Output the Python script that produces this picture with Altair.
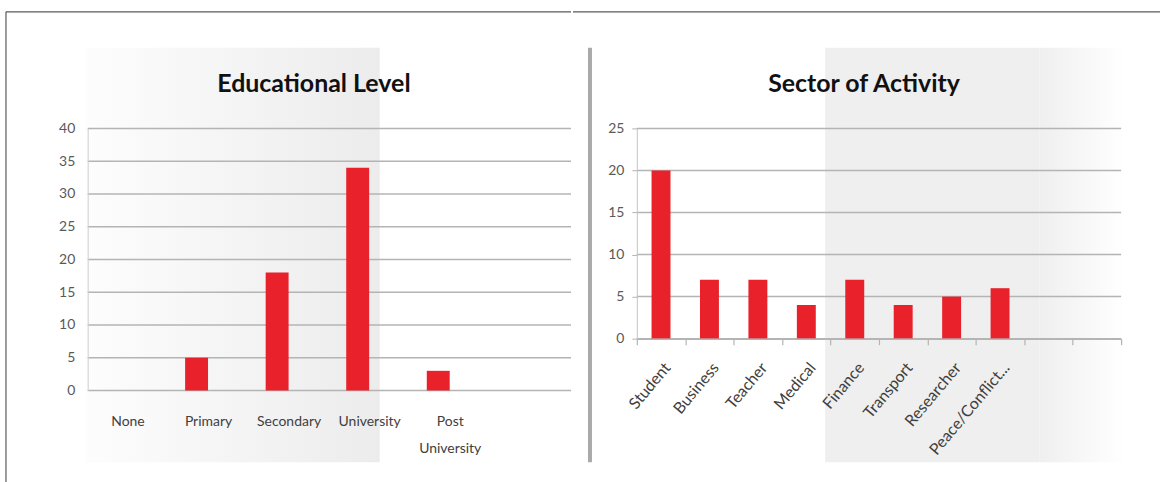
import altair as alt
import pandas as pd

# ---------------- data ----------------
edu_categories = ["None", "Primary", "Secondary", "University", "Post University", "_blank1"]
edu_values = [0, 5, 18, 34, 3]
edu_ticks = [0, 5, 10, 15, 20, 25, 30, 35, 40]

sector_categories = ["Student", "Business", "Teacher", "Medical", "Finance",
                     "Transport", "Researcher", "Peace/Conflict...", "_blank1", "_blank2"]
sector_values = [20, 7, 7, 4, 7, 4, 5, 6]
sector_ticks = [0, 5, 10, 15, 20, 25]

titles = ["Educational Level", "Sector of Activity"]

# ---------------- style ----------------
FONT = "Lato"
BAR = "#E8212A"
GRID = "#b4b4b4"
LABEL = "#595959"
XLABEL = "#404040"
BORDER = "#5a5a5a"

W1, H1 = 485, 263
W2, H2 = 486, 211

one = pd.DataFrame({"k": [0]})


def shade(x0, x1, y0, y1, c0, c1):
    grad = alt.Gradient(
        gradient="linear",
        stops=[alt.GradientStop(color=c0, offset=0), alt.GradientStop(color=c1, offset=1)],
        x1=0, x2=1, y1=0, y2=0,
    )
    return alt.Chart(one).mark_rect(fill=grad).encode(
        x=alt.value(x0), x2=alt.value(x1), y=alt.value(y0), y2=alt.value(y1)
    )


def rule(x0, x1, y0, y1, color, width):
    return alt.Chart(one).mark_rule(color=color, strokeWidth=width).encode(
        x=alt.value(x0), x2=alt.value(x1), y=alt.value(y0), y2=alt.value(y1)
    )


def title_text(txt, x, y):
    return alt.Chart(one).mark_text(
        font=FONT, fontSize=25, fontWeight="bold", color="#111111",
        align="center", baseline="alphabetic"
    ).encode(x=alt.value(x), y=alt.value(y), text=alt.value(txt))


hide_blank = "indexof(datum.label, '_') == 0 ? '' : datum.label"

# ---------------- left chart ----------------
edu_df = pd.DataFrame({"category": edu_categories[:len(edu_values)], "value": edu_values})
edu_grid_df = pd.DataFrame({"value": edu_ticks})

y1_scale = alt.Scale(domain=[0, 40], nice=False)
y1_axis = alt.Axis(title=None, values=edu_ticks, grid=False, ticks=False, domain=True,
                   domainColor="#cfcfcf", labelPadding=13, labelFontSize=14,
                   labelColor=LABEL, labelFont=FONT, zindex=1)
x1_axis = alt.Axis(title=None, labelAngle=0, ticks=False, domain=False, labelPadding=24,
                   labelFontSize=14, labelColor=XLABEL, labelFont=FONT, labelLineHeight=27,
                   zindex=1,
                   labelExpr="datum.label == 'Post University' ? ['Post', 'University'] : (" + hide_blank + ")")
x1_scale = alt.Scale(domain=edu_categories, paddingInner=0, paddingOuter=0)

grid1 = alt.Chart(edu_grid_df).mark_rule(color=GRID, strokeWidth=1.5).encode(
    y=alt.Y("value:Q", scale=y1_scale, axis=y1_axis), x=alt.value(0), x2=alt.value(W1)
)
bars1 = alt.Chart(edu_df).mark_bar(color=BAR, width=23, xOffset=-12).encode(
    x=alt.X("category:N", scale=x1_scale, sort=edu_categories, axis=x1_axis),
    y=alt.Y("value:Q", scale=y1_scale, axis=y1_axis),
)

left = alt.layer(
    shade(-2, 293, -81, 335, "#fdfdfd", "#ececec"),
    grid1,
    bars1,
    title_text(titles[0], 227, -37),
    rule(-82, W1, -117, -117, BORDER, 1.2),
    rule(-82, -82, -117, 355, BORDER, 1.2),
).properties(width=W1, height=H1)

# ---------------- right chart ----------------
sec_df = pd.DataFrame({"category": sector_categories[:len(sector_values)], "value": sector_values})
sec_grid_df = pd.DataFrame({"value": sector_ticks})

y2_scale = alt.Scale(domain=[0, 25], nice=False)
y2_axis = alt.Axis(title=None, values=sector_ticks, grid=False, ticks=True, tickSize=5,
                   tickColor=GRID, domain=True, domainColor="#c4c4c4", labelPadding=8,
                   labelFontSize=14, labelColor=LABEL, labelFont=FONT, zindex=1)
x2_axis = alt.Axis(title=None, labelAngle=-50, labelAlign="right", labelBaseline="middle",
                   ticks=True, tickBand="extent", tickSize=6, tickColor=GRID, tickWidth=1.2,
                   domain=True, domainColor=GRID, domainWidth=1.5, labelPadding=20,
                   labelOffset=6, labelFontSize=16, labelColor=XLABEL, labelFont=FONT,
                   labelExpr=hide_blank, zindex=1, labelOverlap=False, labelLimit=0)
x2_scale = alt.Scale(domain=sector_categories, paddingInner=0, paddingOuter=0)

grid2 = alt.Chart(sec_grid_df).mark_rule(color=GRID, strokeWidth=1.5).encode(
    y=alt.Y("value:Q", scale=y2_scale, axis=y2_axis), x=alt.value(0), x2=alt.value(W2)
)
bars2 = alt.Chart(sec_df).mark_bar(color=BAR, width=19).encode(
    x=alt.X("category:N", scale=x2_scale, sort=sector_categories, axis=x2_axis),
    y=alt.Y("value:Q", scale=y2_scale, axis=y2_axis),
)

right = alt.layer(
    shade(189, 404, -81, 335, "#efefef", "#efefef"),
    shade(404, 489, -81, 335, "#efefef", "#ffffff"),
    grid2,
    bars2,
    title_text(titles[1], 228, -37),
    rule(-47, -47, -81, 335, "#a9a9a9", 4),
    rule(-64, 525, -117, -117, BORDER, 1.2),
).properties(width=W2, height=H2)

chart = alt.hconcat(left, right, spacing=0).resolve_scale(y="independent", x="independent").properties(
    padding={"left": 5, "top": 10, "right": 0, "bottom": 0},
    background="white",
).configure_view(stroke=None)

chart.save("out.html", embed_options={"renderer": "svg", "actions": False})
